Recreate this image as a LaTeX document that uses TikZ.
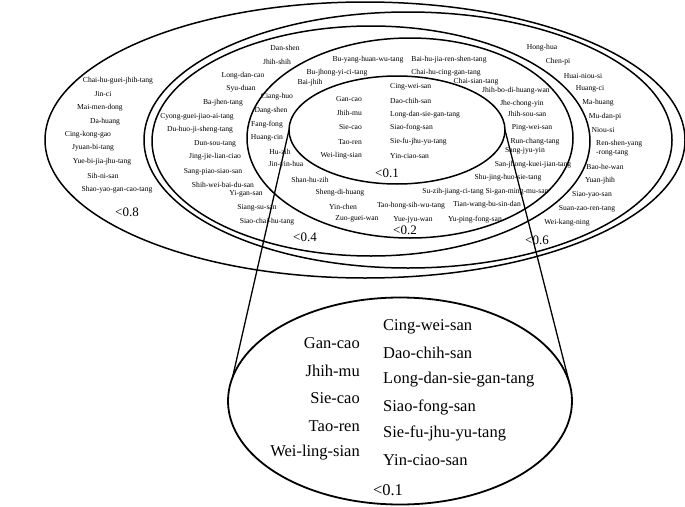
\documentclass[tikz,border=0pt]{standalone}
\usepackage{fontspec}
\setmainfont{Liberation Serif}
\usetikzlibrary{shapes.geometric}
\begin{document}
\begin{tikzpicture}[x=1pt,y=-1pt,
  oval/.style={ellipse, draw, line width=1.5pt, inner sep=0pt, outer sep=0pt},
  tx/.style={font=\fontsize{7.6}{8.6}\selectfont, inner sep=0pt},
  lab/.style={font=\fontsize{13}{15}\selectfont, inner sep=0pt},
  bigtx/.style={font=\fontsize{16.5}{19}\selectfont, inner sep=0pt},
  link/.style={line width=1.3pt}]
\useasboundingbox (0,0) rectangle (685,506);
% ellipses
\node[oval, minimum width=640pt, minimum height=276pt] (e1) at (365,140) {};
\node[oval, minimum width=528pt, minimum height=256pt] (e2) at (408,140) {};
\node[oval, minimum width=438pt, minimum height=230pt] (e3) at (371,141) {};
\node[oval, minimum width=326pt, minimum height=200pt] (e4) at (410,138) {};
\node[oval, minimum width=216pt, minimum height=108pt] (e5) at (397,130) {};
\node[oval, line width=1.8pt, minimum width=344pt, minimum height=207pt] (zm) at (400,401) {};
% connectors
\draw[link] (e5.west) -- (zm.172);
\draw[link] (e5.east) -- (zm.6);
% <0.8 group
\node[tx] (a1) at (118,81) {Chai-hu-guei-jhih-tang};
\node[tx] (a2) at (103,94) {Jin-ci};
\node[tx] (a3) at (100,108) {Mai-men-dong};
\node[tx] (a4) at (105,122) {Da-huang};
\node[tx] (a5) at (88,135) {Cing-kong-gao};
\node[tx] (a6) at (93,148) {Jyuan-bi-tang};
\node[tx] (a7) at (102,162) {Yue-bi-jia-jhu-tang};
\node[tx] (a8) at (103,176) {Sih-ni-san};
\node[tx] (a9) at (117,190) {Shao-yao-gan-cao-tang};
\node[lab] (l8) at (127,212) {<0.8};
% <0.6 group
\node[tx] (b1) at (542,48) {Hong-hua};
\node[tx] (b2) at (558,62) {Chen-pi};
\node[tx] (b3) at (583,76) {Huai-niou-si};
\node[tx] (b4) at (590,89) {Huang-ci};
\node[tx] (b5) at (598,103) {Ma-huang};
\node[tx] (b6) at (605,117) {Mu-dan-pi};
\node[tx] (b7) at (603,130) {Niou-si};
\node[tx, anchor=west] (b8) at (596,144) {Ren-shen-yang};
\node[tx, anchor=west] (b9) at (596,153) {-rong-tang};
\node[tx] (b10) at (605,167) {Bao-he-wan};
\node[tx] (b11) at (600,181) {Yuan-jhih};
\node[tx] (b12) at (592,195) {Siao-yao-san};
\node[tx] (b13) at (587,209) {Suan-zao-ren-tang};
\node[tx] (b14) at (567,223) {Wei-kang-ning};
\node[lab] (l6) at (537,240) {<0.6};
% <0.4 group
\node[tx] (c1) at (285,48) {Dan-shen};
\node[tx] (c2) at (277,62) {Jhih-shih};
\node[tx] (c3) at (243,76) {Long-dan-cao};
\node[tx] (c4) at (241,89) {Syu-duan};
\node[tx] (c5) at (223,103) {Ba-jhen-tang};
\node[tx] (c6) at (197,117) {Cyong-guei-jiao-ai-tang};
\node[tx] (c7) at (200,130) {Du-huo-ji-sheng-tang};
\node[tx] (c8) at (215,144) {Dun-sou-tang};
\node[tx] (c9) at (215,157) {Jing-jie-lian-ciao};
\node[tx] (c10) at (213,172) {Sang-piao-siao-san};
\node[tx] (c11) at (223,185) {Shih-wei-bai-du-san};
\node[tx] (c12) at (246,194) {Yi-gan-san};
\node[tx] (c13) at (257,208) {Siang-su-san};
\node[tx] (c14) at (267,222) {Siao-chai-hu-tang};
\node[lab] (l4) at (305,237) {<0.4};
% <0.2 group
\node[tx] (d1) at (368,60) {Bu-yang-huan-wu-tang};
\node[tx] (d2) at (449,60) {Bai-hu-jia-ren-shen-tang};
\node[tx] (d3) at (337,73) {Bu-jhong-yi-ci-tang};
\node[tx] (d4) at (446,73) {Chai-hu-cing-gan-tang};
\node[tx] (d5) at (310,83) {Bai-jhih};
\node[tx] (d6) at (476,82) {Chai-sian-tang};
\node[tx] (d7) at (516,91) {Jhih-bo-di-huang-wan};
\node[tx] (d8) at (277,97) {Ciang-huo};
\node[tx] (d9) at (522,104) {Jhe-chong-yin};
\node[tx] (d10) at (271,111) {Dang-shen};
\node[tx] (d11) at (527,114) {Jhih-sou-san};
\node[tx] (d12) at (267,125) {Fang-fong};
\node[tx] (d13) at (532,128) {Ping-wei-san};
\node[tx] (d14) at (267,138) {Huang-cin};
\node[tx] (d15) at (535,142) {Run-chang-tang};
\node[tx] (d16) at (280,152) {Hu-zih};
\node[tx] (d17) at (525,151) {Sang-jyu-yin};
\node[tx] (d18) at (286,165) {Jin-yin-hua};
\node[tx] (d19) at (533,165) {San-jhong-kuei-jian-tang};
\node[tx] (d20) at (310,180) {Shan-hu-zih};
\node[tx] (d21) at (508,178) {Shu-jing-huo-sie-tang};
\node[tx] (d22) at (340,193) {Sheng-di-huang};
\node[tx] (d23) at (453,192) {Su-zih-jiang-ci-tang};
\node[tx] (d24) at (517,192) {Si-gan-ming-mu-san};
\node[tx] (d25) at (343,207) {Yin-chen};
\node[tx] (d26) at (411,206) {Tao-hong-sih-wu-tang};
\node[tx] (d27) at (487,205) {Tian-wang-bu-sin-dan};
\node[tx] (d28) at (357,219) {Zuo-guei-wan};
\node[tx] (d29) at (413,220) {Yue-jyu-wan};
\node[tx] (d30) at (475,220) {Yu-ping-fong-san};
\node[lab] (l2) at (405,230) {<0.2};
% <0.1 group (small)
\node[tx, anchor=east] (g1) at (362,99) {Gan-cao};
\node[tx, anchor=east] (g2) at (362,113) {Jhih-mu};
\node[tx, anchor=east] (g3) at (362,127) {Sie-cao};
\node[tx, anchor=east] (g4) at (362,142) {Tao-ren};
\node[tx, anchor=east] (g5) at (362,156) {Wei-ling-sian};
\node[tx, anchor=west] (h1) at (390,87) {Cing-wei-san};
\node[tx, anchor=west] (h2) at (390,101) {Dao-chih-san};
\node[tx, anchor=west] (h3) at (390,115) {Long-dan-sie-gan-tang};
\node[tx, anchor=west] (h4) at (390,128) {Siao-fong-san};
\node[tx, anchor=west] (h5) at (390,142) {Sie-fu-jhu-yu-tang};
\node[tx, anchor=west] (h6) at (390,156) {Yin-ciao-san};
\node[lab] (l1) at (387,173) {<0.1};
% enlarged <0.1 group
\node[bigtx, anchor=east] (G1) at (360,343) {Gan-cao};
\node[bigtx, anchor=east] (G2) at (360,371) {Jhih-mu};
\node[bigtx, anchor=east] (G3) at (360,398) {Sie-cao};
\node[bigtx, anchor=east] (G4) at (360,426) {Tao-ren};
\node[bigtx, anchor=east] (G5) at (360,453) {Wei-ling-sian};
\node[bigtx, anchor=west] (H1) at (383,327) {Cing-wei-san};
\node[bigtx, anchor=west] (H2) at (383,353) {Dao-chih-san};
\node[bigtx, anchor=west] (H3) at (383,380) {Long-dan-sie-gan-tang};
\node[bigtx, anchor=west] (H4) at (383,407) {Siao-fong-san};
\node[bigtx, anchor=west] (H5) at (383,433) {Sie-fu-jhu-yu-tang};
\node[bigtx, anchor=west] (H6) at (383,460) {Yin-ciao-san};
\node[bigtx] (L1) at (388,490) {<0.1};
\end{tikzpicture}
\end{document}
